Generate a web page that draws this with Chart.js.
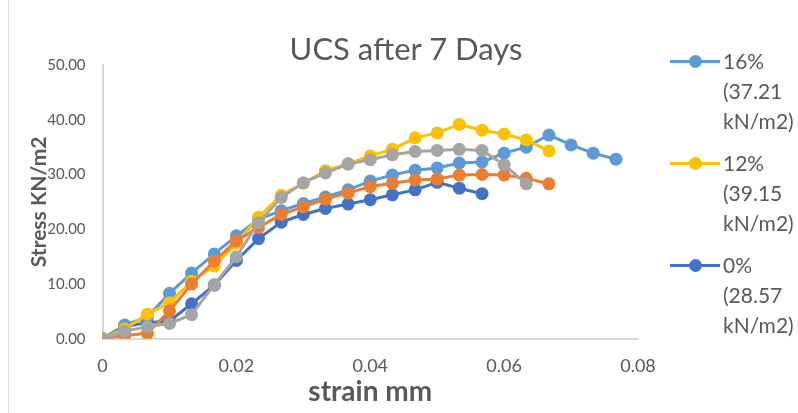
<!DOCTYPE html>
<html>
<head>
<meta charset="utf-8">
<script src="https://cdn.jsdelivr.net/npm/chart.js@4/dist/chart.umd.min.js"></script>
<style>
  html, body { margin: 0; padding: 0; background: #fff; overflow: hidden; }
  #wrap { position: relative; width: 798px; height: 413px; overflow: hidden; }
  #title { position: absolute; left: 206px; width: 400px; top: 29px; text-align: center;
           font-family: Lato, sans-serif; font-size: 31px; line-height: 38px; color: #595959; }
  #legend { position: absolute; left: 668px; top: 46px; font-family: Lato, sans-serif;
            font-size: 21px; color: #595959; line-height: 30px; }
  .item { position: relative; padding-left: 55px; margin-bottom: 12px; white-space: nowrap; }
  .mark { position: absolute; left: 2px; top: 14px; width: 50px; height: 3px; }
  .dot { position: absolute; left: 19px; top: -5px; width: 13px; height: 13px; border-radius: 50%; }
</style>
</head>
<body>
<div id="wrap">
  <canvas id="chart" width="798" height="413"></canvas>
  <div id="title">UCS after 7 Days</div>
  <div id="legend"></div>
</div>
<script>
/* ---------------- data ---------------- */
const strain = [0, 0.0033, 0.0067, 0.01, 0.0133, 0.0167, 0.02, 0.0233, 0.0267, 0.03,
  0.0333, 0.0367, 0.04, 0.0433, 0.0467, 0.05, 0.0533, 0.0567, 0.06, 0.0633,
  0.0667, 0.07, 0.0733, 0.0767];

const stress16 = [0, 2.5, 4.0, 8.3, 12.0, 15.5, 18.8, 21.8, 23.4, 24.7, 25.9, 27.2,
  28.8, 29.9, 30.8, 31.2, 32.1, 32.3, 33.9, 35.0, 37.21, 35.4, 33.9, 32.8];
const stress12 = [0, 1.8, 4.5, 6.6, 10.5, 13.3, 17.5, 22.2, 26.2, 28.4, 30.7, 32.0,
  33.4, 34.6, 36.7, 37.6, 39.15, 38.1, 37.4, 36.3, 34.3];
const stress0 = [0, 2.2, 3.0, 3.2, 6.4, 9.8, 14.3, 18.3, 21.3, 22.7, 23.8, 24.6,
  25.4, 26.3, 27.2, 28.57, 27.5, 26.5];
const stressOrange = [0, 0.6, 1.0, 5.1, 10.0, 14.2, 17.9, 20.3, 22.7, 24.1, 25.5, 26.6,
  27.8, 28.4, 29.0, 29.2, 29.9, 30.0, 29.9, 29.3, 28.3];
const stressGray = [0, 1.4, 2.2, 2.8, 4.4, 9.9, 15.0, 21.2, 25.8, 28.5, 30.3, 31.9,
  32.7, 33.6, 34.2, 34.4, 34.6, 34.4, 31.8, 28.3];

const legendLabels = [["16%", "(37.21", "kN/m2)"], ["12%", "(39.15", "kN/m2)"], ["0%", "(28.57", "kN/m2)"]];
const xTicks = [0, 0.02, 0.04, 0.06, 0.08];
const yTicks = [0, 10, 20, 30, 40, 50];

/* ---------------- helpers ---------------- */
const toPoints = (ys) => ys.map((y, i) => ({ x: strain[i], y: y }));

const makeSet = (label, ys, color, order, inLegend) => ({
  label: label,
  data: toPoints(ys),
  borderColor: color,
  backgroundColor: color,
  borderWidth: 3,
  pointRadius: 6.5,
  pointHoverRadius: 6.5,
  pointBorderWidth: 0,
  tension: 0,
  order: order,
  inLegend: inLegend,
});

const datasets = [
  makeSet("16%", stress16, "#5B9BD5", 4, 0),
  makeSet("12%", stress12, "#FFC000", 3, 1),
  makeSet("0%", stress0, "#4472C4", 5, 2),
  makeSet("Series 4", stressOrange, "#ED7D31", 2, -1),
  makeSet("Series 5", stressGray, "#A5A5A5", 1, -1),
];

/* frame line at left edge */
const framePlugin = {
  id: "frame",
  beforeDraw(chart) {
    const ctx = chart.ctx;
    ctx.save();
    ctx.strokeStyle = "#d9d9d9";
    ctx.lineWidth = 1;
    ctx.beginPath();
    ctx.moveTo(8.5, 0);
    ctx.lineTo(8.5, chart.height);
    ctx.stroke();
    ctx.restore();
  },
};

/* ---------------- chart ---------------- */
const chart = new Chart(document.getElementById("chart"), {
  type: "line",
  data: { datasets: datasets },
  plugins: [framePlugin],
  options: {
    responsive: false,
    animation: false,
    layout: { padding: { left: 24, right: 160, top: 65, bottom: 0 } },
    plugins: {
      legend: { display: false },
      tooltip: { enabled: false },
      title: { display: false },
    },
    scales: {
      x: {
        type: "linear",
        min: 0,
        max: 0.08,
        afterBuildTicks: (axis) => { axis.ticks = xTicks.map((v) => ({ value: v })); },
        grid: { display: false, drawTicks: false },
        border: { display: true, color: "#d9d9d9", width: 2 },
        ticks: {
          padding: 17,
          color: "#595959",
          font: { family: "Lato", size: 18 },
          callback: (v) => (v === 0 ? "0" : v.toFixed(2)),
        },
        title: {
          display: true,
          text: "strain mm",
          color: "#595959",
          font: { family: "Lato", size: 28, weight: "bold" },
          padding: { top: -19, bottom: 4 },
        },
      },
      y: {
        min: 0,
        max: 50,
        afterBuildTicks: (axis) => { axis.ticks = yTicks.map((v) => ({ value: v })); },
        grid: { display: false, drawTicks: false },
        border: { display: true, color: "#d9d9d9", width: 2 },
        ticks: {
          padding: 17,
          color: "#595959",
          font: { family: "Lato", size: 15 },
          callback: (v) => v.toFixed(2),
        },
        title: {
          display: true,
          text: "Stress KN/m2",
          color: "#595959",
          font: { family: "Lato", size: 21, weight: "bold" },
          padding: { top: 3, bottom: -22 },
        },
      },
    },
  },
});

/* ---------------- html legend ---------------- */
const legendBox = document.getElementById("legend");
chart.data.datasets
  .filter((ds) => ds.inLegend >= 0)
  .sort((a, b) => a.inLegend - b.inLegend)
  .forEach((ds) => {
    const item = document.createElement("div");
    item.className = "item";
    const mark = document.createElement("div");
    mark.className = "mark";
    mark.style.background = ds.borderColor;
    const dot = document.createElement("div");
    dot.className = "dot";
    dot.style.background = ds.borderColor;
    mark.appendChild(dot);
    item.appendChild(mark);
    legendLabels[ds.inLegend].forEach((line) => {
      const row = document.createElement("div");
      row.textContent = line;
      item.appendChild(row);
    });
    legendBox.appendChild(item);
  });
</script>
</body>
</html>
